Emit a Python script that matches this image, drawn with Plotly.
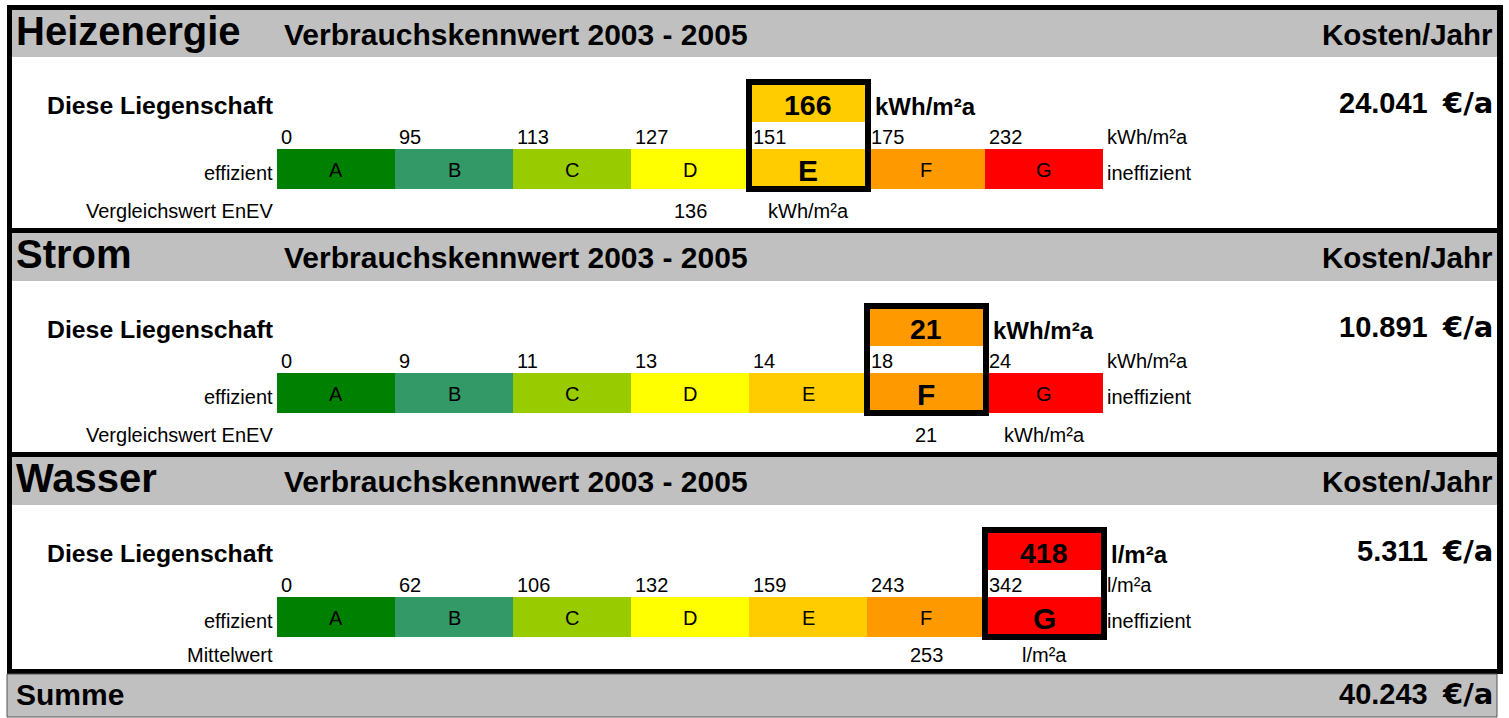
import plotly.graph_objects as go

# ---------------- data ----------------
classes = ["A", "B", "C", "D", "E", "F", "G"]
class_colors = ["#008000", "#339966", "#99CC00", "#FFFF00", "#FFCC00", "#FF9900", "#FF0000"]

section_titles = ["Heizenergie", "Strom", "Wasser"]
period_label = "Verbrauchskennwert 2003 - 2005"
cost_header = "Kosten/Jahr"
property_label = "Diese Liegenschaft"
left_label = "effizient"
right_label = "ineffizient"

thresholds_heat = [0, 95, 113, 127, 151, 175, 232]
thresholds_power = [0, 9, 11, 13, 14, 18, 24]
thresholds_water = [0, 62, 106, 132, 159, 243, 342]
thresholds = [thresholds_heat, thresholds_power, thresholds_water]

units = ["kWh/m²a", "kWh/m²a", "l/m²a"]
property_values = [166, 21, 418]
reference_labels = ["Vergleichswert EnEV", "Vergleichswert EnEV", "Mittelwert"]
reference_values = [136, 21, 253]
costs = ["24.041", "10.891", "5.311"]
total_label = "Summe"
total_cost = "40.243"
cost_unit = "€/a"

# ---------------- layout constants (pixels) ----------------
W, H = 1509, 718
FONT = "Liberation Sans, Arial, sans-serif"
UNIT_FONT = "DejaVu Sans, Liberation Sans, sans-serif"
GRAY = "#C0C0C0"
BAR_X0 = 277
CELL_W = 118
LEFT, RIGHT = 7, 1503
HEADER_TOPS = [10, 233, 457]
WHITE_TOPS = [57, 281, 505]
SEP_LINES = [(5, 10), (228, 233), (452, 457), (669, 674)]
REF_BASELINES = [218, 442, 662]
SUM_TOP, SUM_BOTTOM = 674, 717
COST_NUM_X = 1428
COST_UNIT_X = 1493
HEAD_SIZE = 30
KOSTEN_SIZE = 29.5
TITLE_SIZE = 40
REG = 20
TICK_PAD = 3.5


def class_index(value, th):
    idx = 0
    for i, t in enumerate(th):
        if value >= t:
            idx = i
    return idx


def cell_left(i):
    return BAR_X0 + i * CELL_W


fig = go.Figure()
shapes = []
annotations = []


def rect(x0, y0, x1, y1, fill, line_color=None, line_width=0, layer="below"):
    shapes.append(dict(type="rect", xref="x", yref="y", x0=x0, y0=y0, x1=x1, y1=y1,
                       fillcolor=fill, layer=layer,
                       line=dict(color=line_color or fill, width=line_width)))


def text(x, baseline, s, size, bold=False, xanchor="left", family=FONT):
    y = baseline - 0.35 * size
    annotations.append(dict(x=x, y=y, xref="x", yref="y", text=(f"<b>{s}</b>" if bold else s),
                            showarrow=False, xanchor=xanchor, yanchor="middle",
                            font=dict(family=family, size=size, color="black"),
                            borderpad=0, borderwidth=0))


def cost_text(baseline, number):
    text(COST_NUM_X, baseline, number, 29, bold=True, xanchor="right")
    text(COST_UNIT_X, baseline + 0.5, cost_unit, 29, bold=True, xanchor="right", family=UNIT_FONT)


# outer frame & header bands
rect(LEFT, SEP_LINES[0][0], RIGHT, SEP_LINES[-1][1], "black")
for k in range(3):
    top = HEADER_TOPS[k]
    white_top = WHITE_TOPS[k]
    bottom = SEP_LINES[k + 1][0]
    rect(LEFT + 5, top, RIGHT - 6, white_top, GRAY)
    rect(LEFT + 5, white_top, RIGHT - 6, bottom, "white")
rect(LEFT, SUM_TOP, RIGHT - 6, SUM_BOTTOM, GRAY, line_color="#555555", line_width=1)

# sections
for k in range(3):
    th = thresholds[k]
    S = WHITE_TOPS[k]
    top = HEADER_TOPS[k]
    bar_y0, bar_y1 = S + 92, S + 132
    hi = class_index(property_values[k], th)
    ref_i = class_index(reference_values[k], th)

    # header texts
    text(16, top + 35, section_titles[k], TITLE_SIZE, bold=True)
    text(284, top + 35, period_label, HEAD_SIZE, bold=True)
    text(COST_UNIT_X, top + 35, cost_header, KOSTEN_SIZE, bold=True, xanchor="right")

    # class band as horizontal bars
    fig.add_trace(go.Bar(
        orientation="h",
        x=[CELL_W] * len(classes),
        base=[cell_left(i) for i in range(len(classes))],
        y=[(bar_y0 + bar_y1) / 2] * len(classes),
        width=bar_y1 - bar_y0,
        marker=dict(color=class_colors, line=dict(width=0)),
        hoverinfo="skip", showlegend=False,
    ))
    # value cell above highlighted class
    fig.add_trace(go.Bar(
        orientation="h",
        x=[CELL_W], base=[cell_left(hi)],
        y=[S + 45], width=40,
        marker=dict(color=class_colors[hi], line=dict(width=0)),
        hoverinfo="skip", showlegend=False,
    ))

    # class letters
    for i, c in enumerate(classes):
        cx = cell_left(i) + CELL_W / 2
        if i == hi:
            text(cx, S + 123.5, c, 30, bold=True, xanchor="center")
        else:
            text(cx, S + 120, c, REG, xanchor="center")

    # thresholds
    for i, t in enumerate(th):
        text(cell_left(i) + TICK_PAD, S + 86.5, str(t), REG)
    text(cell_left(len(classes)) + TICK_PAD, S + 86.5, units[k], REG)

    # side labels
    text(273, S + 122.5, left_label, REG, xanchor="right")
    text(cell_left(len(classes)) + TICK_PAD, S + 122.5, right_label, REG)

    # property row
    text(273, S + 57.5, property_label, 24.8, bold=True, xanchor="right")
    text(cell_left(hi) + CELL_W / 2, S + 58, str(property_values[k]), 28.5, bold=True, xanchor="center")
    text(cell_left(hi + 1) + 8, S + 58, units[k], 24, bold=True)

    # highlight box
    shapes.append(dict(type="rect", xref="x", yref="y",
                       x0=cell_left(hi), x1=cell_left(hi + 1) + 1,
                       y0=S + 25, y1=bar_y1,
                       line=dict(color="black", width=6), fillcolor="rgba(0,0,0,0)", layer="above"))

    # reference row
    text(273, REF_BASELINES[k], reference_labels[k], REG, xanchor="right")
    text(cell_left(ref_i) + CELL_W / 2, REF_BASELINES[k], str(reference_values[k]), REG, xanchor="center")
    text(cell_left(ref_i + 1) + CELL_W / 2, REF_BASELINES[k], units[k], REG, xanchor="center")

    # costs
    cost_text(S + 56, costs[k])

# total row
text(16, 705, total_label, HEAD_SIZE, bold=True)
cost_text(704, total_cost)

fig.update_layout(
    width=W, height=H,
    margin=dict(l=0, r=0, t=0, b=0),
    paper_bgcolor="white", plot_bgcolor="white",
    barmode="overlay", bargap=0,
    xaxis=dict(range=[0, W], visible=False, fixedrange=True),
    yaxis=dict(range=[H, 0], visible=False, fixedrange=True),
    shapes=shapes, annotations=annotations,
    showlegend=False,
)

fig.write_html("out.html", config={"displayModeBar": False},
               post_script="document.body.style.margin='0';document.body.style.overflow='hidden';")
